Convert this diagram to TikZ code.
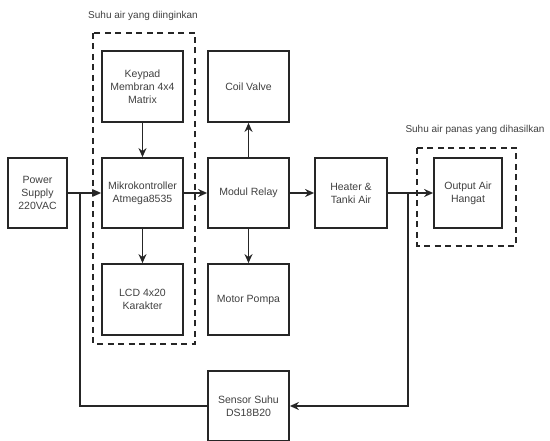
\documentclass[tikz,border=0pt]{standalone}
\usepackage{fontspec}
\setmainfont{Liberation Sans}
\usetikzlibrary{arrows.meta}
\begin{document}
\begin{tikzpicture}[x=1pt,y=-1pt,
  blk/.style={draw=black!85,line width=1.8pt,fill=white,inner sep=0pt,align=center,font=\fontsize{10.5}{13}\selectfont,text=black!75},
  arr/.style={line width=1.8pt,draw=black!85,-{Stealth[length=9pt,width=8pt]}},
  ln/.style={line width=1.8pt,draw=black!85},
  grp/.style={draw=black!85,line width=1.9pt,dash pattern=on 6pt off 4.5pt},
  lbl/.style={font=\fontsize{10}{12}\selectfont,text=black!75,inner sep=0pt}]
\useasboundingbox (0,0) rectangle (550,441);
\draw[grp] (93,33) rectangle (195,344);
\draw[grp] (417,148) rectangle (516,246);
\node[lbl] (l1) at (143,16) {Suhu air yang diinginkan};
\node[lbl] (l2) at (475,130) {Suhu air panas yang dihasilkan};
\node[blk,minimum width=81pt,minimum height=71pt] (key) at (142.5,86.5) {Keypad\\Membran 4x4\\Matrix};
\node[blk,minimum width=81pt,minimum height=70pt] (mik) at (142.5,193) {Mikrokontroller\\Atmega8535};
\node[blk,minimum width=81pt,minimum height=71pt] (lcd) at (142.5,299.5) {LCD 4x20\\Karakter};
\node[blk,minimum width=59pt,minimum height=70pt] (ps) at (37.5,193) {Power\\Supply\\220VAC};
\node[blk,minimum width=81pt,minimum height=71pt] (coil) at (248.5,86.5) {Coil Valve};
\node[blk,minimum width=81pt,minimum height=70pt] (rel) at (248.5,193) {Modul Relay};
\node[blk,minimum width=81pt,minimum height=71pt] (mot) at (248.5,299.5) {Motor Pompa};
\node[blk,minimum width=72pt,minimum height=70pt] (heat) at (351,193) {Heater \&\\Tanki Air};
\node[blk,minimum width=68pt,minimum height=70pt] (out) at (468,193) {Output Air\\Hangat};
\node[blk,minimum width=81pt,minimum height=70pt] (sen) at (248.5,406) {Sensor Suhu\\DS18B20};
\coordinate (j1) at (80,193);
\coordinate (j2) at (408,193);
\draw[arr] (ps) -- (mik);
\draw[arr] (key) -- (mik);
\draw[arr] (mik) -- (lcd);
\draw[arr] (mik) -- (rel);
\draw[arr] (rel) -- (coil);
\draw[arr] (rel) -- (mot);
\draw[arr] (rel) -- (heat);
\draw[arr] (heat) -- (out);
\draw[ln] (j1) |- (sen.west);
\draw[arr] (j2) |- (sen.east);
\end{tikzpicture}
\end{document}
